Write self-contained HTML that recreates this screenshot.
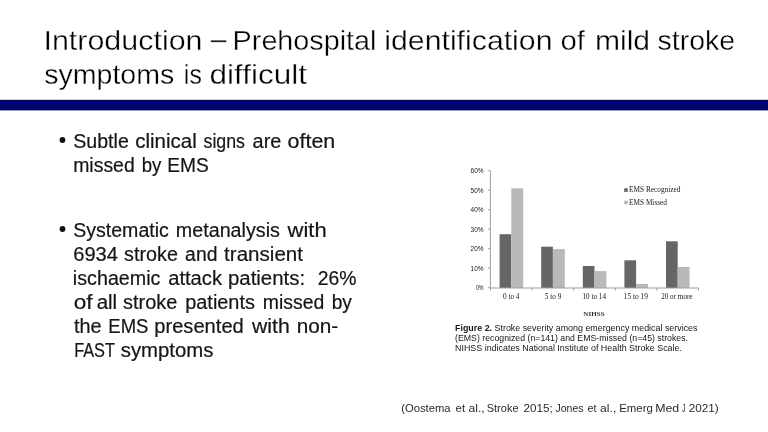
<!DOCTYPE html>
<html><head><meta charset="utf-8"><style>
html,body{margin:0;padding:0;background:#fff;}
body{width:768px;height:432px;overflow:hidden;position:relative;font-family:"Liberation Sans",sans-serif;}
svg{position:absolute;left:0;top:0;display:block;}
</style></head><body>
<svg width="768" height="432" viewBox="0 0 768 432">
<rect x="0" y="0" width="768" height="432" fill="#ffffff"/>
<rect x="0" y="99.8" width="768" height="10.6" fill="#02026e"/>
<circle cx="62.5" cy="140" r="2.9" fill="#111"/>
<circle cx="62.5" cy="229" r="2.9" fill="#111"/>
<rect x="499.60" y="234.20" width="11.7" height="53.80" fill="#666666"/>
<rect x="511.30" y="188.30" width="11.9" height="99.70" fill="#b9b9b9"/>
<rect x="541.20" y="246.70" width="11.7" height="41.30" fill="#666666"/>
<rect x="552.90" y="249.10" width="11.9" height="38.90" fill="#b9b9b9"/>
<rect x="582.80" y="266.00" width="11.7" height="22.00" fill="#666666"/>
<rect x="594.50" y="271.10" width="11.9" height="16.90" fill="#b9b9b9"/>
<rect x="624.40" y="260.30" width="11.7" height="27.70" fill="#666666"/>
<rect x="636.10" y="284.00" width="11.9" height="4.00" fill="#b9b9b9"/>
<rect x="666.00" y="241.30" width="11.7" height="46.70" fill="#666666"/>
<rect x="677.70" y="267.00" width="11.9" height="21.00" fill="#b9b9b9"/>
<rect x="489.9" y="170.6" width="1" height="118.4" fill="#a0a0a0"/>
<rect x="489.9" y="287.5" width="209" height="1" fill="#a0a0a0"/>
<rect x="487.9" y="170.20" width="2.5" height="1" fill="#a0a0a0"/>
<rect x="487.9" y="189.70" width="2.5" height="1" fill="#a0a0a0"/>
<rect x="487.9" y="209.20" width="2.5" height="1" fill="#a0a0a0"/>
<rect x="487.9" y="228.70" width="2.5" height="1" fill="#a0a0a0"/>
<rect x="487.9" y="248.20" width="2.5" height="1" fill="#a0a0a0"/>
<rect x="487.9" y="267.70" width="2.5" height="1" fill="#a0a0a0"/>
<rect x="487.9" y="287.20" width="2.5" height="1" fill="#a0a0a0"/>
<rect x="490.00" y="288" width="1" height="2.5" fill="#a0a0a0"/>
<rect x="531.60" y="288" width="1" height="2.5" fill="#a0a0a0"/>
<rect x="573.20" y="288" width="1" height="2.5" fill="#a0a0a0"/>
<rect x="614.80" y="288" width="1" height="2.5" fill="#a0a0a0"/>
<rect x="656.40" y="288" width="1" height="2.5" fill="#a0a0a0"/>
<rect x="698.00" y="288" width="1" height="2.5" fill="#a0a0a0"/>
<rect x="624.2" y="188.3" width="3.6" height="3.6" fill="#666666"/>
<rect x="624.2" y="200.7" width="3.6" height="3.6" fill="#b9b9b9"/>
<g style="filter:grayscale(1)">
<text stroke="#ffffff" stroke-width="0.35" id="t1_0" x="43.45" y="50.00" font-family="Liberation Sans" font-size="28" font-weight="400" fill="#000" textLength="159.11" lengthAdjust="spacingAndGlyphs">Introduction</text>
<rect id="t1_1" x="210.80" y="40.4" width="15.45" height="1.7" fill="#1a1a1a"/>
<text stroke="#ffffff" stroke-width="0.35" id="t1_2" x="232.64" y="50.00" font-family="Liberation Sans" font-size="28" font-weight="400" fill="#000" textLength="143.88" lengthAdjust="spacingAndGlyphs">Prehospital</text>
<text stroke="#ffffff" stroke-width="0.35" id="t1_3" x="384.25" y="50.00" font-family="Liberation Sans" font-size="28" font-weight="400" fill="#000" textLength="168.27" lengthAdjust="spacingAndGlyphs">identification</text>
<text stroke="#ffffff" stroke-width="0.35" id="t1_4" x="560.40" y="50.00" font-family="Liberation Sans" font-size="28" font-weight="400" fill="#000" textLength="24.48" lengthAdjust="spacingAndGlyphs">of</text>
<text stroke="#ffffff" stroke-width="0.35" id="t1_5" x="594.94" y="50.00" font-family="Liberation Sans" font-size="28" font-weight="400" fill="#000" textLength="55.12" lengthAdjust="spacingAndGlyphs">mild</text>
<text stroke="#ffffff" stroke-width="0.35" id="t1_6" x="657.55" y="50.00" font-family="Liberation Sans" font-size="28" font-weight="400" fill="#000" textLength="77.55" lengthAdjust="spacingAndGlyphs">stroke</text>
<text stroke="#ffffff" stroke-width="0.35" id="t2_0" x="44.24" y="84.00" font-family="Liberation Sans" font-size="28" font-weight="400" fill="#000" textLength="130.02" lengthAdjust="spacingAndGlyphs">symptoms</text>
<text stroke="#ffffff" stroke-width="0.35" id="t2_1" x="183.86" y="84.00" font-family="Liberation Sans" font-size="28" font-weight="400" fill="#000" textLength="17.98" lengthAdjust="spacingAndGlyphs">is</text>
<text stroke="#ffffff" stroke-width="0.35" id="t2_2" x="209.40" y="84.00" font-family="Liberation Sans" font-size="28" font-weight="400" fill="#000" textLength="97.60" lengthAdjust="spacingAndGlyphs">difficult</text>
<text stroke="#151515" stroke-width="0.2" id="b1a_0" x="73.20" y="147.50" font-family="Liberation Sans" font-size="19.6" font-weight="400" fill="#151515" textLength="55.60" lengthAdjust="spacingAndGlyphs">Subtle</text>
<text stroke="#151515" stroke-width="0.2" id="b1a_1" x="135.20" y="147.50" font-family="Liberation Sans" font-size="19.6" font-weight="400" fill="#151515" textLength="61.56" lengthAdjust="spacingAndGlyphs">clinical</text>
<text stroke="#151515" stroke-width="0.2" id="b1a_2" x="203.50" y="147.50" font-family="Liberation Sans" font-size="19.6" font-weight="400" fill="#151515" textLength="41.50" lengthAdjust="spacingAndGlyphs">signs</text>
<text stroke="#151515" stroke-width="0.2" id="b1a_3" x="252.62" y="147.50" font-family="Liberation Sans" font-size="19.6" font-weight="400" fill="#151515" textLength="28.76" lengthAdjust="spacingAndGlyphs">are</text>
<text stroke="#151515" stroke-width="0.2" id="b1a_4" x="287.58" y="147.50" font-family="Liberation Sans" font-size="19.6" font-weight="400" fill="#151515" textLength="47.68" lengthAdjust="spacingAndGlyphs">often</text>
<text stroke="#151515" stroke-width="0.2" id="b1b_0" x="73.20" y="171.80" font-family="Liberation Sans" font-size="19.6" font-weight="400" fill="#151515" textLength="61.56" lengthAdjust="spacingAndGlyphs">missed</text>
<text stroke="#151515" stroke-width="0.2" id="b1b_1" x="141.78" y="171.80" font-family="Liberation Sans" font-size="19.6" font-weight="400" fill="#151515" textLength="19.64" lengthAdjust="spacingAndGlyphs">by</text>
<text stroke="#151515" stroke-width="0.2" id="b1b_2" x="167.28" y="171.80" font-family="Liberation Sans" font-size="19.6" font-weight="400" fill="#151515" textLength="41.52" lengthAdjust="spacingAndGlyphs">EMS</text>
<text stroke="#151515" stroke-width="0.2" id="b2a_0" x="73.20" y="236.50" font-family="Liberation Sans" font-size="19.6" font-weight="400" fill="#151515" textLength="95.68" lengthAdjust="spacingAndGlyphs">Systematic</text>
<text stroke="#151515" stroke-width="0.2" id="b2a_1" x="175.86" y="236.50" font-family="Liberation Sans" font-size="19.6" font-weight="400" fill="#151515" textLength="104.02" lengthAdjust="spacingAndGlyphs">metanalysis</text>
<text stroke="#151515" stroke-width="0.2" id="b2a_2" x="287.54" y="236.50" font-family="Liberation Sans" font-size="19.6" font-weight="400" fill="#151515" textLength="39.14" lengthAdjust="spacingAndGlyphs">with</text>
<text stroke="#151515" stroke-width="0.2" id="b2b_0" x="73.20" y="260.50" font-family="Liberation Sans" font-size="19.6" font-weight="400" fill="#151515" textLength="44.76" lengthAdjust="spacingAndGlyphs">6934</text>
<text stroke="#151515" stroke-width="0.2" id="b2b_1" x="124.08" y="260.50" font-family="Liberation Sans" font-size="19.6" font-weight="400" fill="#151515" textLength="53.80" lengthAdjust="spacingAndGlyphs">stroke</text>
<text stroke="#151515" stroke-width="0.2" id="b2b_2" x="185.12" y="260.50" font-family="Liberation Sans" font-size="19.6" font-weight="400" fill="#151515" textLength="32.33" lengthAdjust="spacingAndGlyphs">and</text>
<text stroke="#151515" stroke-width="0.2" id="b2b_3" x="224.12" y="260.50" font-family="Liberation Sans" font-size="19.6" font-weight="400" fill="#151515" textLength="78.88" lengthAdjust="spacingAndGlyphs">transient</text>
<text stroke="#151515" stroke-width="0.2" id="b2c_0" x="72.86" y="284.50" font-family="Liberation Sans" font-size="19.6" font-weight="400" fill="#151515" textLength="87.60" lengthAdjust="spacingAndGlyphs">ischaemic</text>
<text stroke="#151515" stroke-width="0.2" id="b2c_1" x="168.16" y="284.50" font-family="Liberation Sans" font-size="19.6" font-weight="400" fill="#151515" textLength="53.84" lengthAdjust="spacingAndGlyphs">attack</text>
<text stroke="#151515" stroke-width="0.2" id="b2c_2" x="227.97" y="284.50" font-family="Liberation Sans" font-size="19.6" font-weight="400" fill="#151515" textLength="77.13" lengthAdjust="spacingAndGlyphs">patients:</text>
<text stroke="#151515" stroke-width="0.2" id="b2c_3" x="317.66" y="284.50" font-family="Liberation Sans" font-size="19.6" font-weight="400" fill="#151515" textLength="38.68" lengthAdjust="spacingAndGlyphs">26%</text>
<text stroke="#151515" stroke-width="0.2" id="b2d_0" x="73.66" y="308.50" font-family="Liberation Sans" font-size="19.6" font-weight="400" fill="#151515" textLength="18.84" lengthAdjust="spacingAndGlyphs">of</text>
<text stroke="#151515" stroke-width="0.2" id="b2d_1" x="96.66" y="308.50" font-family="Liberation Sans" font-size="19.6" font-weight="400" fill="#151515" textLength="20.52" lengthAdjust="spacingAndGlyphs">all</text>
<text stroke="#151515" stroke-width="0.2" id="b2d_2" x="123.08" y="308.50" font-family="Liberation Sans" font-size="19.6" font-weight="400" fill="#151515" textLength="54.26" lengthAdjust="spacingAndGlyphs">stroke</text>
<text stroke="#151515" stroke-width="0.2" id="b2d_3" x="185.24" y="308.50" font-family="Liberation Sans" font-size="19.6" font-weight="400" fill="#151515" textLength="69.68" lengthAdjust="spacingAndGlyphs">patients</text>
<text stroke="#151515" stroke-width="0.2" id="b2d_4" x="262.74" y="308.50" font-family="Liberation Sans" font-size="19.6" font-weight="400" fill="#151515" textLength="61.56" lengthAdjust="spacingAndGlyphs">missed</text>
<text stroke="#151515" stroke-width="0.2" id="b2d_5" x="331.70" y="308.50" font-family="Liberation Sans" font-size="19.6" font-weight="400" fill="#151515" textLength="20.26" lengthAdjust="spacingAndGlyphs">by</text>
<text stroke="#151515" stroke-width="0.2" id="b2e_0" x="74.04" y="332.50" font-family="Liberation Sans" font-size="19.6" font-weight="400" fill="#151515" textLength="27.61" lengthAdjust="spacingAndGlyphs">the</text>
<text stroke="#151515" stroke-width="0.2" id="b2e_1" x="108.32" y="332.50" font-family="Liberation Sans" font-size="19.6" font-weight="400" fill="#151515" textLength="40.10" lengthAdjust="spacingAndGlyphs">EMS</text>
<text stroke="#151515" stroke-width="0.2" id="b2e_2" x="154.24" y="332.50" font-family="Liberation Sans" font-size="19.6" font-weight="400" fill="#151515" textLength="89.56" lengthAdjust="spacingAndGlyphs">presented</text>
<text stroke="#151515" stroke-width="0.2" id="b2e_3" x="252.00" y="332.50" font-family="Liberation Sans" font-size="19.6" font-weight="400" fill="#151515" textLength="37.80" lengthAdjust="spacingAndGlyphs">with</text>
<text stroke="#151515" stroke-width="0.2" id="b2e_4" x="296.78" y="332.50" font-family="Liberation Sans" font-size="19.6" font-weight="400" fill="#151515" textLength="41.52" lengthAdjust="spacingAndGlyphs">non-</text>
<text stroke="#151515" stroke-width="0.2" id="b2f_0" x="74.20" y="356.50" font-family="Liberation Sans" font-size="19.6" font-weight="400" fill="#151515" textLength="40.76" lengthAdjust="spacingAndGlyphs">FAST</text>
<text stroke="#151515" stroke-width="0.2" id="b2f_1" x="120.74" y="356.50" font-family="Liberation Sans" font-size="19.6" font-weight="400" fill="#151515" textLength="92.72" lengthAdjust="spacingAndGlyphs">symptoms</text>
<text id="cit_0" x="401.20" y="411.70" font-family="Liberation Sans" font-size="11.3" font-weight="400" fill="#2a2a2a" textLength="49.34" lengthAdjust="spacingAndGlyphs">(Oostema</text>
<text id="cit_1" x="455.62" y="411.70" font-family="Liberation Sans" font-size="11.3" font-weight="400" fill="#2a2a2a" textLength="9.46" lengthAdjust="spacingAndGlyphs">et</text>
<text id="cit_2" x="468.58" y="411.70" font-family="Liberation Sans" font-size="11.3" font-weight="400" fill="#2a2a2a" textLength="16.14" lengthAdjust="spacingAndGlyphs">al.,</text>
<text id="cit_3" x="486.74" y="411.70" font-family="Liberation Sans" font-size="11.3" font-weight="400" fill="#2a2a2a" textLength="31.76" lengthAdjust="spacingAndGlyphs">Stroke</text>
<text id="cit_4" x="523.62" y="411.70" font-family="Liberation Sans" font-size="11.3" font-weight="400" fill="#2a2a2a" textLength="29.22" lengthAdjust="spacingAndGlyphs">2015;</text>
<text id="cit_5" x="555.58" y="411.70" font-family="Liberation Sans" font-size="11.3" font-weight="400" fill="#2a2a2a" textLength="27.88" lengthAdjust="spacingAndGlyphs">Jones</text>
<text id="cit_6" x="587.54" y="411.70" font-family="Liberation Sans" font-size="11.3" font-weight="400" fill="#2a2a2a" textLength="8.96" lengthAdjust="spacingAndGlyphs">et</text>
<text id="cit_7" x="600.12" y="411.70" font-family="Liberation Sans" font-size="11.3" font-weight="400" fill="#2a2a2a" textLength="16.14" lengthAdjust="spacingAndGlyphs">al.,</text>
<text id="cit_8" x="619.20" y="411.70" font-family="Liberation Sans" font-size="11.3" font-weight="400" fill="#2a2a2a" textLength="33.68" lengthAdjust="spacingAndGlyphs">Emerg</text>
<text id="cit_9" x="655.20" y="411.70" font-family="Liberation Sans" font-size="11.3" font-weight="400" fill="#2a2a2a" textLength="24.06" lengthAdjust="spacingAndGlyphs">Med</text>
<text id="cit_10" x="682.00" y="411.70" font-family="Liberation Sans" font-size="11.3" font-weight="400" fill="#2a2a2a" textLength="3.50" lengthAdjust="spacingAndGlyphs">J</text>
<text id="cit_11" x="688.70" y="411.70" font-family="Liberation Sans" font-size="11.3" font-weight="400" fill="#2a2a2a" textLength="30.10" lengthAdjust="spacingAndGlyphs">2021)</text>
<text id="c1" x="455.04" y="331.00" font-family="Liberation Sans" font-size="8.2" font-weight="400" fill="#151515" textLength="242.46" lengthAdjust="spacingAndGlyphs"><tspan font-weight="700">Figure 2.</tspan> Stroke severity among emergency medical services</text>
<text id="c2" x="455.04" y="341.40" font-family="Liberation Sans" font-size="8.2" font-weight="400" fill="#151515" textLength="232.96" lengthAdjust="spacingAndGlyphs">(EMS) recognized (n=141) and EMS-missed (n=45) strokes.</text>
<text id="c3" x="455.04" y="350.60" font-family="Liberation Sans" font-size="8.2" font-weight="400" fill="#151515" textLength="226.92" lengthAdjust="spacingAndGlyphs">NIHSS indicates National Institute of Health Stroke Scale.</text>
<text id="nih" x="583.35" y="315.60" font-family="Liberation Serif" font-size="7" font-weight="700" fill="#333" textLength="21.23" lengthAdjust="spacingAndGlyphs">NIHSS</text>
<text id="lg1" x="629.08" y="192.30" font-family="Liberation Serif" font-size="7.5" font-weight="400" fill="#161616" textLength="51.34" lengthAdjust="spacingAndGlyphs">EMS Recognized</text>
<text id="lg2" x="629.08" y="204.80" font-family="Liberation Serif" font-size="7.5" font-weight="400" fill="#161616" textLength="37.88" lengthAdjust="spacingAndGlyphs">EMS Missed</text>
<text id="x1" x="502.96" y="299.30" font-family="Liberation Serif" font-size="7.4" font-weight="400" fill="#161616" textLength="16.56" lengthAdjust="spacingAndGlyphs">0 to 4</text>
<text id="x2" x="544.80" y="299.30" font-family="Liberation Serif" font-size="7.4" font-weight="400" fill="#161616" textLength="16.46" lengthAdjust="spacingAndGlyphs">5 to 9</text>
<text id="x3" x="582.46" y="299.30" font-family="Liberation Serif" font-size="7.4" font-weight="400" fill="#161616" textLength="23.54" lengthAdjust="spacingAndGlyphs">10 to 14</text>
<text id="x4" x="623.68" y="299.30" font-family="Liberation Serif" font-size="7.4" font-weight="400" fill="#161616" textLength="24.34" lengthAdjust="spacingAndGlyphs">15 to 19</text>
<text id="x5" x="661.22" y="299.30" font-family="Liberation Serif" font-size="7.4" font-weight="400" fill="#161616" textLength="31.26" lengthAdjust="spacingAndGlyphs">20 or more</text>
<text id="y60" x="470.58" y="173.30" font-family="718" font-size="7.4" font-weight="400" fill="#161616" textLength="13.00" lengthAdjust="spacingAndGlyphs">60%</text>
<text id="y50" x="470.58" y="192.80" font-family="718" font-size="7.4" font-weight="400" fill="#161616" textLength="13.00" lengthAdjust="spacingAndGlyphs">50%</text>
<text id="y40" x="470.58" y="212.30" font-family="718" font-size="7.4" font-weight="400" fill="#161616" textLength="13.00" lengthAdjust="spacingAndGlyphs">40%</text>
<text id="y30" x="470.58" y="231.80" font-family="718" font-size="7.4" font-weight="400" fill="#161616" textLength="13.00" lengthAdjust="spacingAndGlyphs">30%</text>
<text id="y20" x="470.58" y="251.30" font-family="718" font-size="7.4" font-weight="400" fill="#161616" textLength="13.00" lengthAdjust="spacingAndGlyphs">20%</text>
<text id="y10" x="470.58" y="270.80" font-family="718" font-size="7.4" font-weight="400" fill="#161616" textLength="13.00" lengthAdjust="spacingAndGlyphs">10%</text>
<text id="y0" x="475.88" y="290.30" font-family="718" font-size="7.4" font-weight="400" fill="#161616" textLength="7.70" lengthAdjust="spacingAndGlyphs">0%</text>
</g>
</svg>
</body></html>
